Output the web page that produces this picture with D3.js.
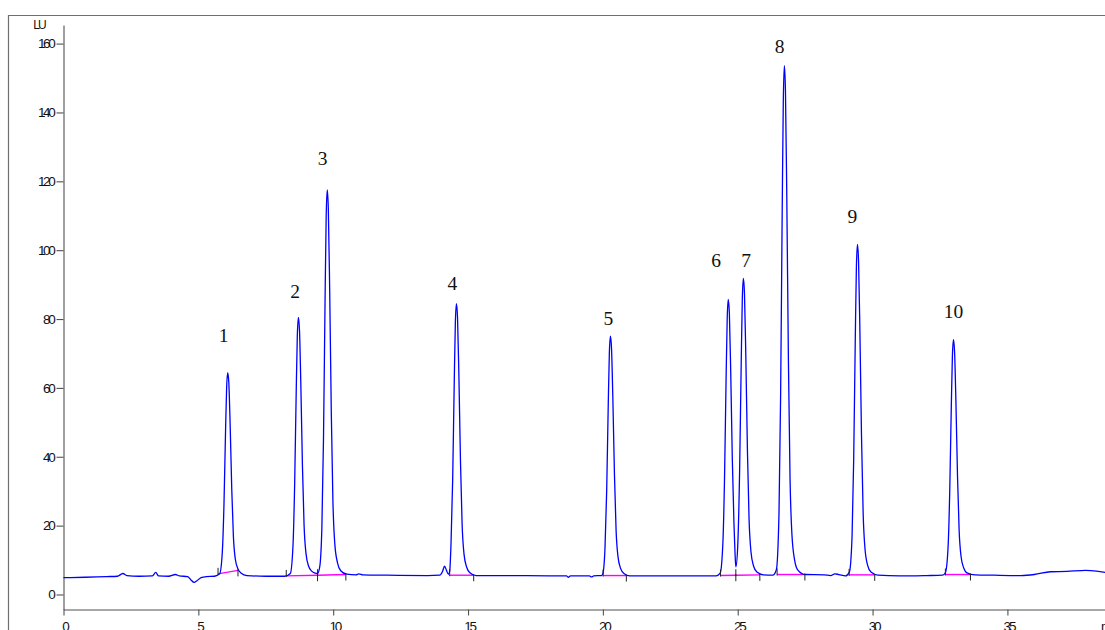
<!DOCTYPE html>
<html>
<head>
<meta charset="utf-8">
<script src="https://cdn.jsdelivr.net/npm/d3@7"></script>
<style>
  html, body { margin: 0; padding: 0; background: #fff; overflow: hidden; }
  svg { display: block; }
</style>
</head>
<body>
<div id="chart"></div>
<script>
// signal trace: [time (min), signal (LU)]
var trace = [
  [0, 4.9], [0.8, 5.0], [1.6, 5.2], [2.0, 5.3], [2.2, 6.1], [2.35, 5.5], [2.8, 5.3], [3.3, 5.4],
  [3.42, 6.4], [3.52, 5.4], [3.9, 5.3], [4.15, 5.8], [4.3, 5.4], [4.6, 5.2], [4.72, 4.3], [4.84, 3.5],
  [4.95, 4.0], [5.1, 4.9], [5.3, 5.2], [5.6, 5.3],
  [5.79, 6.0], [5.89, 12.5], [5.95, 26.1], [6.01, 47.9], [6.05, 60.3], [6.09, 64.4], [6.13, 61.5],
  [6.18, 49.1], [6.24, 30.3], [6.30, 16.8], [6.37, 10.3], [6.47, 7.4], [6.59, 6.2], [6.8, 5.5],
  [7.5, 5.3], [8.2, 5.3],
  [8.41, 6.1], [8.51, 14.3], [8.57, 31.6], [8.63, 59.4], [8.67, 75.2], [8.71, 80.5], [8.75, 76.8],
  [8.80, 61.1], [8.86, 37.3], [8.92, 20.2], [8.99, 12.0], [9.09, 8.2], [9.21, 6.7], [9.33, 6.2], [9.42, 6.1],
  [9.50, 8.0], [9.58, 19.4], [9.64, 45.0], [9.70, 86.3], [9.74, 109.7], [9.78, 117.5], [9.82, 111.9],
  [9.87, 88.5], [9.93, 52.7], [9.99, 27.0], [10.06, 14.7], [10.16, 9.2], [10.28, 6.9], [10.5, 5.9],
  [10.85, 5.7], [10.95, 6.0], [11.1, 5.7], [12.0, 5.6], [13.5, 5.5], [13.95, 5.6], [14.05, 6.6],
  [14.13, 8.2], [14.2, 7.0], [14.27, 5.9],
  [14.32, 6.8], [14.37, 15.0], [14.43, 33.2], [14.49, 62.4], [14.53, 79.0], [14.57, 84.5], [14.61, 80.5],
  [14.66, 64.0], [14.72, 38.7], [14.78, 20.5], [14.85, 11.8], [14.95, 7.9], [15.07, 6.3], [15.3, 5.5],
  [16.5, 5.5], [18.0, 5.4], [18.65, 5.4], [18.72, 5.0], [18.8, 5.4], [19.5, 5.4], [19.58, 5.1],
  [19.66, 5.4], [19.95, 5.5],
  [20.0, 6.1], [20.08, 13.8], [20.14, 29.8], [20.20, 55.5], [20.24, 70.1], [20.28, 75.0], [20.32, 71.5],
  [20.37, 56.9], [20.43, 34.6], [20.49, 18.6], [20.56, 11.0], [20.66, 7.5], [20.78, 6.1], [21.0, 5.4],
  [22.5, 5.4], [24.2, 5.4],
  [24.35, 6.2], [24.45, 15.0], [24.51, 33.5], [24.57, 63.2], [24.61, 80.1], [24.65, 85.7], [24.69, 81.7],
  [24.74, 64.8], [24.80, 39.1], [24.86, 20.7], [24.90, 12.0], [24.93, 8.0],
  [25.0, 14.0], [25.07, 35.8], [25.13, 67.6], [25.17, 85.8], [25.21, 91.8], [25.25, 87.5], [25.30, 69.4],
  [25.36, 41.8], [25.42, 22.0], [25.49, 12.5], [25.59, 8.2], [25.71, 6.5], [25.95, 5.7], [26.3, 5.6],
  [26.43, 7.1], [26.53, 23.4], [26.59, 57.4], [26.65, 112.2], [26.69, 143.2], [26.73, 153.6], [26.77, 146.2],
  [26.82, 115.1], [26.88, 67.8], [26.94, 33.7], [27.01, 17.4], [27.11, 10.0], [27.23, 7.1], [27.5, 5.8],
  [28.2, 5.7], [28.45, 5.5], [28.6, 6.0], [28.75, 5.8], [29.0, 5.4],
  [29.14, 6.5], [29.24, 17.0], [29.30, 39.2], [29.36, 74.8], [29.40, 95.0], [29.44, 101.7], [29.48, 96.9],
  [29.53, 76.7], [29.59, 45.9], [29.65, 23.8], [29.72, 13.2], [29.82, 8.4], [29.94, 6.5], [30.2, 5.6],
  [31.0, 5.4], [32.0, 5.5], [32.6, 5.6],
  [32.7, 6.3], [32.8, 13.8], [32.86, 29.5], [32.92, 54.8], [32.96, 69.2], [33.0, 74.0], [33.04, 70.6],
  [33.09, 56.2], [33.15, 34.3], [33.21, 18.6], [33.28, 11.1], [33.38, 7.7], [33.5, 6.3], [33.8, 5.7],
  [34.5, 5.6], [35.5, 5.5], [36.0, 5.8], [36.6, 6.6], [37.2, 6.7], [37.9, 7.0], [38.3, 6.8], [38.7, 6.3]
];

// integration: peak start / end (min) and baseline level there (LU)
var peakNames  = ["1", "2", "3", "4", "5", "6", "7", "8", "9", "10"];
var peakStart  = [5.73, 8.26, 9.42, 14.32, 20.01, 24.36, 24.93, 26.46, 29.13, 32.70];
var peakEnd    = [6.47, 9.42, 10.47, 15.21, 20.87, 24.93, 25.82, 27.49, 30.08, 33.63];
var baseStart  = [6.0, 5.4, 5.6, 5.6, 5.5, 5.5, 5.6, 5.8, 5.7, 5.8];
var baseEnd    = [7.0, 5.6, 5.8, 5.6, 5.5, 5.6, 5.7, 5.8, 5.7, 5.8];

// where the peak numbers sit (min, LU)
var labelTime  = [5.94, 8.59, 9.61, 14.42, 20.20, 24.20, 25.31, 26.55, 29.25, 33.0];
var labelLevel = [73.4, 86.0, 124.8, 88.4, 78.3, 95.2, 95.2, 157.2, 107.9, 80.3];

var xMajor = [0, 5, 10, 15, 20, 25, 30, 35];
var yMajor = [0, 20, 40, 60, 80, 100, 120, 140, 160];
var yUnit = "LU";
var xUnit = "min";

var W = 1105, H = 630;

var svg = d3.select("#chart").append("svg")
    .attr("width", W)
    .attr("height", H);

// outer frame, runs off the right and bottom edge
svg.append("path")
    .attr("d", "M8.5,640 V15.5 H1110")
    .attr("fill", "none")
    .attr("stroke", "#707070")
    .attr("stroke-width", 1.2);

var x = d3.scaleLinear().domain([0, 38.6]).range([63.5, 1104.5]);
var y = d3.scaleLinear().domain([-4.36, 165.4]).range([609.5, 25]);

var labelFont = "'Liberation Sans', Arial, sans-serif";

// x axis: minor every minute, labels every 5
var gx = svg.append("g").attr("transform", "translate(0," + y(-4.36) + ")");
gx.call(d3.axisBottom(x).tickValues(d3.range(0, 39, 1)).tickSize(6).tickFormat("").tickSizeOuter(0));
gx.call(d3.axisBottom(x).tickValues(xMajor).tickSize(6).tickPadding(6).tickSizeOuter(0));
gx.selectAll("text")
    .attr("font-family", labelFont)
    .attr("font-size", 13.5)
    .attr("letter-spacing", "-2.2px")
    .attr("dx", "1px")
    .attr("fill", "#111");

svg.append("text")
    .attr("x", 1101)
    .attr("y", 631)
    .attr("font-family", labelFont)
    .attr("font-size", 13.5)
    .attr("letter-spacing", "-1.5px")
    .attr("fill", "#111")
    .text(xUnit);

// y axis: minor every 5, labels every 20
var gy = svg.append("g").attr("transform", "translate(" + x(0) + ",0)");
gy.call(d3.axisLeft(y).tickValues(d3.range(0, 166, 5)).tickSize(3.5).tickFormat("").tickSizeOuter(0));
gy.call(d3.axisLeft(y).tickValues(yMajor).tickSize(7).tickPadding(3).tickSizeOuter(0));
gy.selectAll("text")
    .attr("font-family", labelFont)
    .attr("font-size", 13.5)
    .attr("letter-spacing", "-2.3px")
    .attr("fill", "#111");

svg.selectAll(".domain, .tick line")
    .attr("stroke", "#505050")
    .attr("stroke-width", 1.1);

svg.append("text")
    .attr("x", 45)
    .attr("y", 28.5)
    .attr("text-anchor", "end")
    .attr("font-family", labelFont)
    .attr("font-size", 12)
    .attr("letter-spacing", "-1.8px")
    .attr("fill", "#111")
    .text(yUnit);

// integration baselines
var peaks = peakNames.map(function(d, i) {
    return {name: d, t0: peakStart[i], t1: peakEnd[i], b0: baseStart[i], b1: baseEnd[i],
            lt: labelTime[i], ll: labelLevel[i]};
});

svg.append("g").selectAll("line")
    .data(peaks)
    .enter()
    .append("line")
    .attr("x1", function(d){ return x(d.t0) })
    .attr("y1", function(d){ return y(d.b0) })
    .attr("x2", function(d){ return x(d.t1) })
    .attr("y2", function(d){ return y(d.b1) })
    .attr("stroke", "#ff00ff")
    .attr("stroke-width", 1.4);

// the trace
var line = d3.line()
    .x(function(d){ return x(d[0]) })
    .y(function(d){ return y(d[1]) })
    .curve(d3.curveMonotoneX);

svg.append("path")
    .datum(trace)
    .attr("d", line)
    .attr("fill", "none")
    .attr("stroke", "#0000ff")
    .attr("stroke-width", 1.3)
    .attr("stroke-linejoin", "round");

// start marks stand up, end marks hang down
var marks = svg.append("g").attr("stroke", "#222").attr("stroke-width", 1);
marks.selectAll(".start")
    .data(peaks)
    .enter()
    .append("line")
    .attr("class", "start")
    .attr("x1", function(d){ return x(d.t0) })
    .attr("x2", function(d){ return x(d.t0) })
    .attr("y1", function(d){ return y(d.b0) - 6 })
    .attr("y2", function(d){ return y(d.b0) + 1 });
marks.selectAll(".end")
    .data(peaks)
    .enter()
    .append("line")
    .attr("class", "end")
    .attr("x1", function(d){ return x(d.t1) })
    .attr("x2", function(d){ return x(d.t1) })
    .attr("y1", function(d){ return y(d.b1) - 1 })
    .attr("y2", function(d){ return y(d.b1) + 6 });

// peak numbers
svg.append("g").selectAll("text")
    .data(peaks)
    .enter()
    .append("text")
    .attr("x", function(d){ return x(d.lt) })
    .attr("y", function(d){ return y(d.ll) })
    .attr("text-anchor", "middle")
    .attr("font-family", "'Liberation Serif', 'Times New Roman', serif")
    .attr("font-size", 19.5)
    .attr("fill", "#111")
    .text(function(d){ return d.name });
</script>
</body>
</html>
